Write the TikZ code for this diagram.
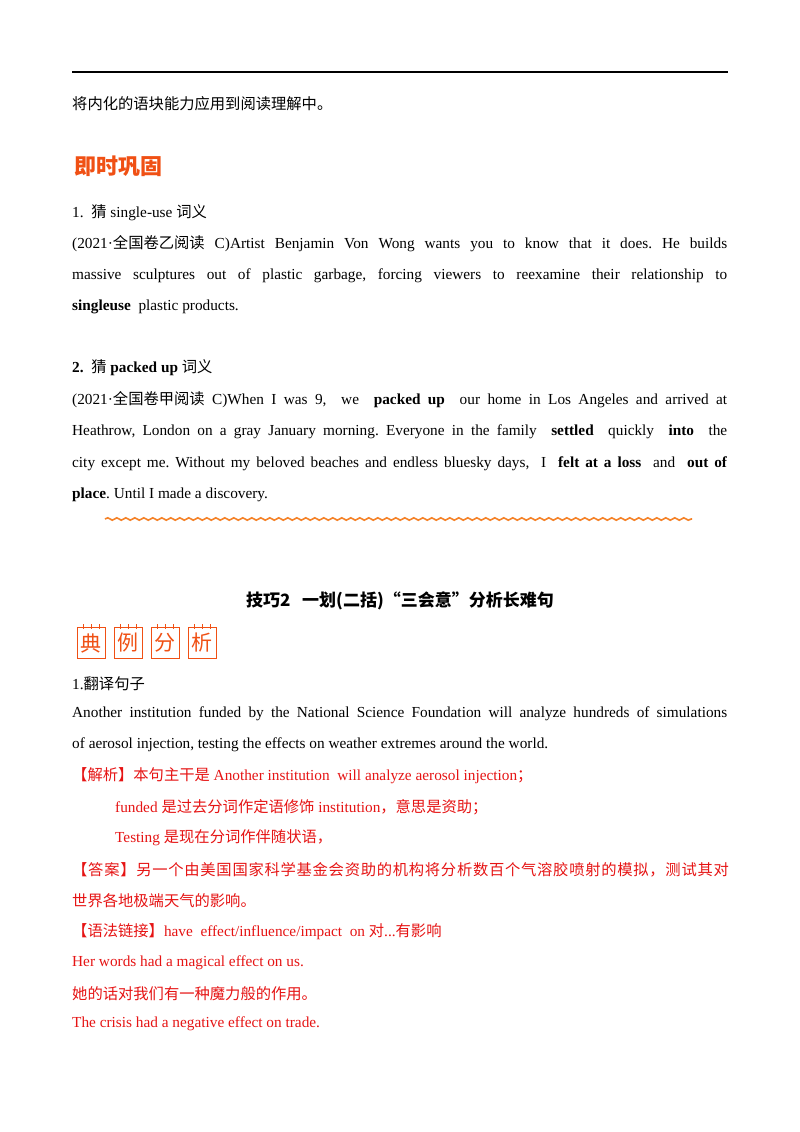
\documentclass[tikz,border=0pt]{standalone}
\usepackage{fontspec}
\setmainfont{Liberation Serif}
\newfontfamily\cjk{Noto Sans CJK SC}
\newfontfamily\cjkw[LetterSpace=4.8]{Noto Sans CJK SC}
\usetikzlibrary{decorations.pathmorphing,calc}
\definecolor{rd}{RGB}{230,20,20}
\definecolor{og}{RGB}{240,80,20}
\definecolor{wv}{RGB}{245,130,40}
\newcommand{\C}[1]{{\cjk #1}}
\newcommand{\J}[1]{\makebox[655pt][s]{#1}}
\frenchspacing
\begin{document}
\begin{tikzpicture}[x=1pt,y=-1pt,
  t/.style={anchor=west,inner sep=0pt,font=\fontsize{15.3}{16}\selectfont},
  r/.style={t,text=rd}]
\useasboundingbox (0,0) rectangle (800,1132);
\fill[white] (0,0) rectangle (800,1132);
\draw[line width=1.5pt] (72,72) coordinate(a) -- (728,72) coordinate(b);
\node[t] (l1) at (72,104) {\C{将内化的语块能力应用到阅读理解中。}};
\node[anchor=west,inner sep=0pt,text=og,font=\cjk\bfseries\fontsize{22}{24}\selectfont] (h1) at (74,166) {即时巩固};
\node[t] (l2) at (72,213) {1.\ \ \C{猜} single-use \C{词义}};
\node[t] (l3) at (72,244) {\J{(2021·\C{全国卷乙阅读} C)Artist Benjamin Von Wong wants you to know that it does. He builds}};
\node[t] (l4) at (72,276) {\J{massive sculptures out of plastic garbage,\ forcing viewers to reexamine their relationship to}};
\node[t] (l5) at (72,307) {\textbf{singleuse}\ \ plastic products.};
\node[t] (l6) at (72,368) {\textbf{2.}\ \ \C{猜} \textbf{packed up} \C{词义}};
\node[t] (l7) at (72,400) {\J{(2021·\C{全国卷甲阅读} C)When I was 9,\ \ we\ \ \textbf{packed up}\ \ our home in Los Angeles and arrived at}};
\node[t] (l8) at (72,432) {\J{Heathrow, London on a gray January morning. Everyone in the family\ \ \textbf{settled}\ \ quickly\ \ \textbf{into}\ \ the}};
\node[t] (l9) at (72,464) {\J{city except me. Without my beloved beaches and endless bluesky days,\ \ I\ \ \textbf{felt at a loss}\ \ and\ \ \textbf{out of}}};
\node[t] (l10) at (72,495) {\textbf{place}. Until I made a discovery.};
\draw[wv,line width=1.6pt,decorate,decoration={snake,amplitude=1.2pt,segment length=9pt}] (105,519) coordinate(w1) -- (692,519) coordinate(w2);
\node[anchor=center,inner sep=0pt,font=\cjk\bfseries\fontsize{17}{18}\selectfont] (title) at (400,601) {技巧2\ \ \ 一划(二括)“三会意”分析长难句};
\foreach \ch [count=\i] in {典,例,分,析}{
  \node[draw=og,line width=0.8pt,minimum width=28pt,minimum height=31pt,inner sep=0pt,text=og,font=\cjk\fontsize{21}{21}\selectfont] (b\i) at (91+\i*37-37,643) {\ch};
  \foreach \k in {-8,0,8}{\draw[og,line width=0.7pt] ($(b\i.north)+(\k,-3)$) -- ($(b\i.north)+(\k,1.5)$);}
}
\node[t] (l11) at (72,684) {1.\C{翻译句子}};
\node[t] (l12) at (72,714) {\J{Another institution funded by the National Science Foundation will analyze hundreds of simulations}};
\node[t] (l13) at (72,745) {of aerosol injection, testing the effects on weather extremes around the world.};
\node[r] (l14) at (72,776) {\C{【解析】本句主干是} Another institution\ \ will analyze aerosol injection\C{；}};
\node[r] (l15) at (115,807) {funded \C{是过去分词作定语修饰} institution\C{，意思是资助；}};
\node[r] (l16) at (115,838) {Testing \C{是现在分词作伴随状语，}};
\node[r] (l17) at (72,870) {\cjkw【答案】另一个由美国国家科学基金会资助的机构将分析数百个气溶胶喷射的模拟，测试其对};
\node[r] (l18) at (72,901) {\C{世界各地极端天气的影响。}};
\node[r] (l19) at (72,932) {\C{【语法链接】}have\ \ effect/influence/impact\ \ on \C{对}...\C{有影响}};
\node[r] (l20) at (72,963) {Her words had a magical effect on us.};
\node[r] (l21) at (72,994) {\C{她的话对我们有一种魔力般的作用。}};
\node[r] (l22) at (72,1024) {The crisis had a negative effect on trade.};
\end{tikzpicture}
\end{document}
